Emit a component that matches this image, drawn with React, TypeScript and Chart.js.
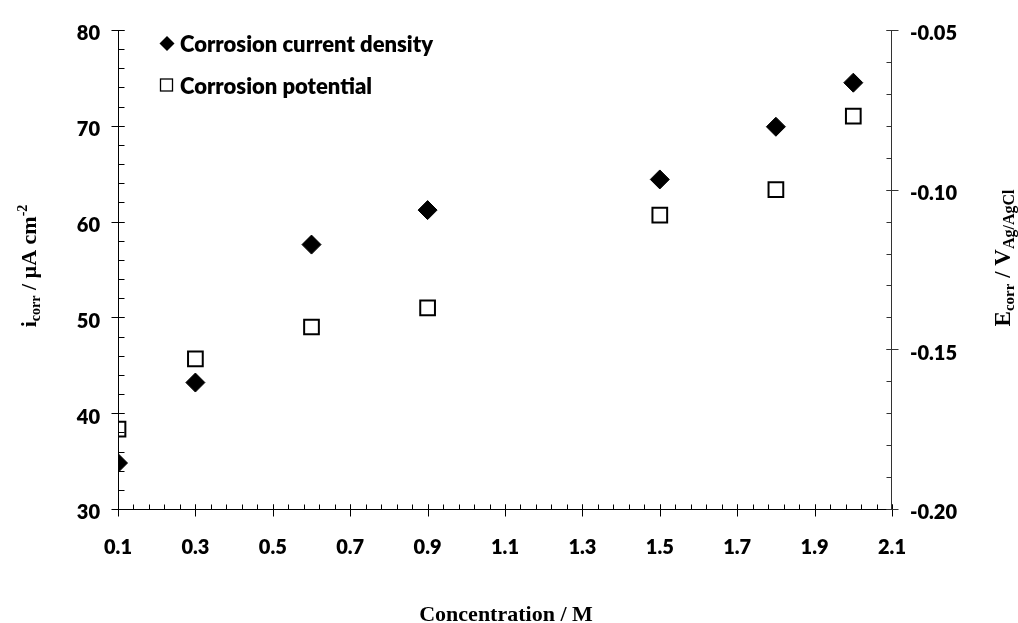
import React, { useEffect, useRef } from 'react';
import { Chart, registerables } from 'chart.js';

Chart.register(...registerables);

// ---- data ----
const CONCENTRATION = [0.1, 0.3, 0.6, 0.9, 1.5, 1.8, 2.0];
const I_CORR = [34.8, 43.2, 57.6, 61.2, 64.4, 69.9, 74.5];
const E_CORR = [-0.175, -0.153, -0.143, -0.137, -0.108, -0.1, -0.077];

const X_TICKS = [0.1, 0.3, 0.5, 0.7, 0.9, 1.1, 1.3, 1.5, 1.7, 1.9, 2.1];
const Y_TICKS = [30, 40, 50, 60, 70, 80];
const Y1_TICKS = [-0.2, -0.15, -0.1, -0.05];
const X_MINOR_COUNT = 50; // 0.04 steps
const Y_MINOR_COUNT = 25; // 2 unit steps
const Y1_MINOR_COUNT = 15; // 0.01 steps

const LEGEND_LABELS = ['Corrosion current density', 'Corrosion potential'];
const X_TITLE = 'Concentration / M';

const SANS = 'Lato, "Open Sans", sans-serif';
const SERIF = '"Liberation Serif", "Times New Roman", serif';

type Part = { t: string; size: number; dy: number };

function drawParts(ctx: CanvasRenderingContext2D, parts: Part[], cx: number, cy: number, rotate: boolean) {
  ctx.save();
  let total = 0;
  const widths = parts.map((p) => {
    ctx.font = `bold ${p.size}px ${SERIF}`;
    const w = ctx.measureText(p.t).width;
    total += w;
    return w;
  });
  ctx.translate(cx, cy);
  if (rotate) ctx.rotate(-Math.PI / 2);
  let u = -total / 2;
  ctx.fillStyle = '#000';
  ctx.textBaseline = 'alphabetic';
  ctx.textAlign = 'left';
  parts.forEach((p, i) => {
    ctx.font = `bold ${p.size}px ${SERIF}`;
    ctx.fillText(p.t, u, p.dy);
    u += widths[i];
  });
  ctx.restore();
}

const axesPlugin = {
  id: 'customAxes',
  beforeDatasetsDraw(chart: any) {
    const { ctx, chartArea: a, scales } = chart;
    const xs = scales.x;
    const ys = scales.y;
    const y1s = scales.y1;
    ctx.save();
    ctx.strokeStyle = '#000';
    ctx.lineWidth = 1;
    const L = a.left + 0.5;
    const R = a.right - 0.5;
    const B = a.bottom + 0.5;
    ctx.beginPath();
    ctx.moveTo(L, a.top);
    ctx.lineTo(L, a.bottom + 1);
    ctx.moveTo(a.left, B);
    ctx.lineTo(a.right, B);
    ctx.stroke();
    // left minor
    ctx.beginPath();
    for (let i = 0; i <= Y_MINOR_COUNT; i++) {
      const v = ys.min + (i * (ys.max - ys.min)) / Y_MINOR_COUNT;
      const p = Math.round(ys.getPixelForValue(v)) + 0.5;
      ctx.moveTo(L, p);
      ctx.lineTo(L + 6, p);
    }
    Y_TICKS.forEach((v) => {
      const p = Math.round(ys.getPixelForValue(v)) + 0.5;
      ctx.moveTo(L - 7, p);
      ctx.lineTo(L + 6, p);
    });
    // x minor
    for (let i = 0; i <= X_MINOR_COUNT; i++) {
      const v = xs.min + (i * (xs.max - xs.min)) / X_MINOR_COUNT;
      const p = Math.round(xs.getPixelForValue(v)) + 0.5;
      ctx.moveTo(p, B);
      ctx.lineTo(p, B - 5);
    }
    X_TICKS.forEach((v) => {
      const p = Math.round(xs.getPixelForValue(v)) + 0.5;
      ctx.moveTo(p, B - 5);
      ctx.lineTo(p, B + 7);
    });
    ctx.stroke();
    // right axis
    ctx.strokeStyle = '#333';
    ctx.beginPath();
    ctx.moveTo(R, a.top);
    ctx.lineTo(R, a.bottom + 1);
    for (let i = 0; i <= Y1_MINOR_COUNT; i++) {
      const v = y1s.min + (i * (y1s.max - y1s.min)) / Y1_MINOR_COUNT;
      const p = Math.round(y1s.getPixelForValue(v)) + 0.5;
      ctx.moveTo(R, p);
      ctx.lineTo(R - 5, p);
    }
    Y1_TICKS.forEach((v) => {
      const p = Math.round(y1s.getPixelForValue(v)) + 0.5;
      ctx.moveTo(R - 5, p);
      ctx.lineTo(R + 7, p);
    });
    ctx.stroke();
    ctx.restore();
  },
  afterDraw(chart: any) {
    const { ctx, chartArea: a } = chart;
    ctx.save();
    // legend
    ctx.fillStyle = '#000';
    ctx.beginPath();
    const dx = 167, dy = 43.5, r = 7.5;
    ctx.moveTo(dx - r, dy);
    ctx.lineTo(dx, dy - r);
    ctx.lineTo(dx + r, dy);
    ctx.lineTo(dx, dy + r);
    ctx.closePath();
    ctx.fill();
    ctx.strokeStyle = '#000';
    ctx.lineWidth = 1.3;
    ctx.strokeRect(160.5, 79, 12, 12);
    ctx.font = `800 22px ${SANS}`;
    ctx.textAlign = 'left';
    ctx.textBaseline = 'alphabetic';
    ctx.fillText(LEGEND_LABELS[0], 180, 51.5);
    ctx.fillText(LEGEND_LABELS[1], 180, 93.5);
    ctx.restore();

    // titles
    const cx = (a.left + a.right) / 2;
    drawParts(ctx, [{ t: X_TITLE, size: 22, dy: 0 }], cx + 1, 621, false);
    drawParts(
      ctx,
      [
        { t: 'i', size: 22, dy: 0 },
        { t: 'corr', size: 14, dy: 4 },
        { t: ' / µA cm', size: 22, dy: 0 },
        { t: '-2', size: 14, dy: -9 },
      ],
      36,
      266,
      true
    );
    drawParts(
      ctx,
      [
        { t: 'E', size: 23, dy: 0 },
        { t: 'corr', size: 15, dy: 4 },
        { t: ' / V', size: 23, dy: 0 },
        { t: 'Ag/AgCl', size: 16, dy: 4 },
      ],
      1010,
      258,
      true
    );
  },
};

export default function App() {
  const ref = useRef<HTMLCanvasElement | null>(null);
  useEffect(() => {
    if (!ref.current) return;
    const tickFont = { family: SANS, size: 20, weight: 800 as any };
    const chart = new Chart(ref.current, {
      type: 'scatter',
      data: {
        datasets: [
          {
            label: LEGEND_LABELS[0],
            data: CONCENTRATION.map((c, i) => ({ x: c, y: I_CORR[i] })),
            yAxisID: 'y',
            pointStyle: 'rectRot',
            pointRadius: 9.5,
            pointHoverRadius: 9.5,
            backgroundColor: '#000',
            borderColor: '#000',
            borderWidth: 1,
          },
          {
            label: LEGEND_LABELS[1],
            data: CONCENTRATION.map((c, i) => ({ x: c, y: E_CORR[i] })),
            yAxisID: 'y1',
            pointStyle: 'rect',
            pointRadius: 10.4,
            pointHoverRadius: 10.4,
            backgroundColor: 'rgba(0,0,0,0)',
            borderColor: '#000',
            borderWidth: 2,
          },
        ],
      },
      options: {
        responsive: false,
        animation: false,
        events: [],
        layout: { padding: { top: 23, left: 0, right: 0, bottom: 0 } },
        plugins: {
          legend: { display: false },
          tooltip: { enabled: false },
        },
        scales: {
          x: {
            type: 'linear',
            min: 0.1,
            max: 2.1,
            grid: { display: false, drawTicks: false },
            border: { display: false },
            afterBuildTicks: (s: any) => {
              s.ticks = X_TICKS.map((v) => ({ value: v }));
            },
            afterFit: (s: any) => {
              s.height = 114;
            },
            ticks: {
              font: tickFont,
              color: '#000',
              padding: 27,
              maxRotation: 0,
              autoSkip: false,
              callback: (v: any) => Number(v).toFixed(1),
            },
          },
          y: {
            type: 'linear',
            position: 'left',
            min: 30,
            max: 80,
            grid: { display: false, drawTicks: false },
            border: { display: false },
            afterBuildTicks: (s: any) => {
              s.ticks = Y_TICKS.map((v) => ({ value: v }));
            },
            afterFit: (s: any) => {
              s.width = 118;
            },
            ticks: {
              font: tickFont,
              color: '#000',
              padding: 18,
              labelOffset: 4,
              callback: (v: any) => String(v),
            },
          },
          y1: {
            type: 'linear',
            position: 'right',
            min: -0.2,
            max: -0.05,
            grid: { display: false, drawTicks: false },
            border: { display: false },
            afterBuildTicks: (s: any) => {
              s.ticks = Y1_TICKS.map((v) => ({ value: v }));
            },
            afterFit: (s: any) => {
              s.width = 126;
            },
            ticks: {
              font: tickFont,
              color: '#000',
              padding: 18,
              labelOffset: 4,
              callback: (v: any) => Number(v).toFixed(2),
            },
          },
        },
      },
      plugins: [axesPlugin],
    });
    return () => chart.destroy();
  }, []);
  return (
    <div style={{ position: 'absolute', left: 0, top: 0, width: 1018, height: 623, background: '#fff' }}>
      <canvas ref={ref} width={1018} height={623} style={{ display: 'block' }} />
    </div>
  );
}
